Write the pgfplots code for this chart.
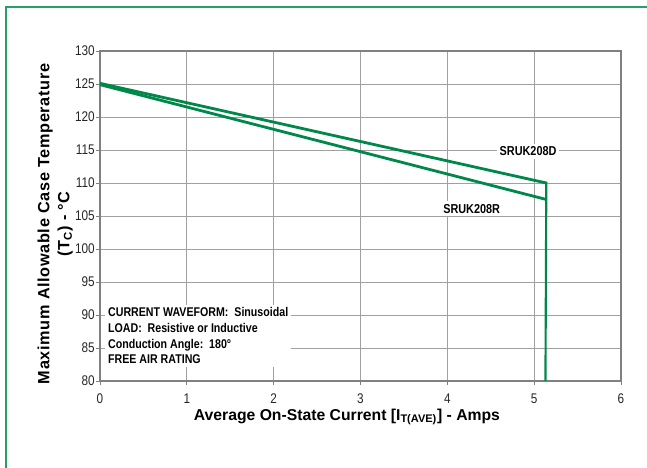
\documentclass[border=0pt]{standalone}
\usepackage{fontspec}
\setmainfont{Liberation Sans}
\newfontfamily\narrow[FakeStretch=0.84]{Liberation Sans}
\newfontfamily\spaced[LetterSpace=4]{Liberation Sans}
\usepackage{pgfplots}
\pgfplotsset{compat=1.18}
\definecolor{curvegreen}{RGB}{0,136,74}
\definecolor{framegreen}{RGB}{40,160,100}
\definecolor{gridgray}{RGB}{160,160,160}
\definecolor{axisgray}{RGB}{128,128,128}

\begin{document}
\begin{tikzpicture}
\path[use as bounding box] (0,0) rectangle (485.25pt,351pt);
\draw[framegreen, line width=1.1pt] (4.5pt,0) -- (4.5pt,345.75pt) -- (485.25pt,345.75pt);
\begin{axis}[
    at={(75pt,65.25pt)}, anchor=south west,
    scale only axis,
    width=390.75pt, height=247.5pt,
    xmin=0, xmax=6, ymin=80, ymax=130,
    xtick={0,1,...,6},
    ytick={80,85,...,130},
    grid=major,
    grid style={gridgray, line width=0.6pt},
    axis line style={axisgray, line width=1pt},
    tick style={axisgray, line width=0.6pt},
    tick align=outside,
    major tick length=3pt,
    xtick pos=bottom, ytick pos=left,
    /pgf/number format/assume math mode=true,
    ticklabel style={font=\narrow\fontsize{10.5}{12}\selectfont, text=black!85},
    yticklabel style={xshift=2.5pt},
    xticklabel style={yshift=-3pt},
    xlabel={Average On-State Current [I\textsubscript{T(AVE)}] - Amps},
    xlabel style={font=\bfseries\fontsize{11.8}{14}\selectfont, at={(axis description cs:0.474,-0.109)}, anchor=center},
    ylabel={Maximum Allowable Case Temperature\\(T\textsubscript{C}) - °C},
    ylabel style={font=\spaced\bfseries\fontsize{12.2}{15}\selectfont, align=center, at={(axis description cs:-0.086,0.476)}, anchor=center},
]
\addplot[curvegreen, line width=2.1pt] coordinates {(0,125.1) (5.14,110)};
\addplot[curvegreen, line width=2.1pt] coordinates {(0,124.9) (5.14,107.5)};
\addplot[curvegreen, line width=1.6pt] coordinates {(5.14,110.2) (5.13,80)};
\node[fill=white, inner sep=2pt, font=\narrow\bfseries\fontsize{9.7}{11}\selectfont] at (axis cs:4.93,114.8) {SRUK208D};
\node[fill=white, inner sep=2pt, font=\narrow\bfseries\fontsize{9.7}{11}\selectfont] at (axis cs:4.28,106.1) {SRUK208R};
\node[fill=white, anchor=north west, align=left, inner sep=2pt,
      font=\narrow\bfseries\fontsize{9.5}{11.8}\selectfont]
      at (axis cs:0.06,91.6)
      {CURRENT WAVEFORM:\ \ Sinusoidal\\LOAD:\ \ Resistive or Inductive\\Conduction Angle:\ \ 180°\\FREE AIR RATING};
\end{axis}
\end{tikzpicture}
\end{document}
